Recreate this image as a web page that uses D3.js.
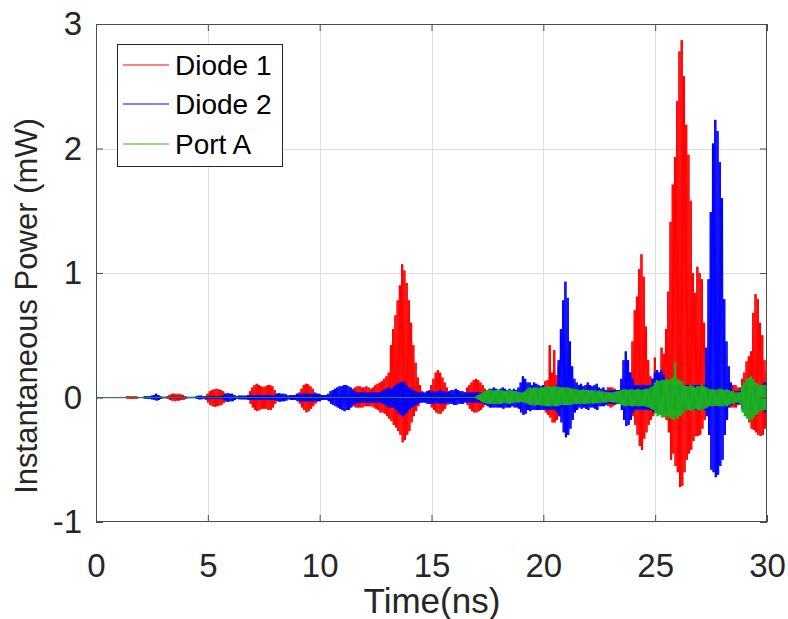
<!DOCTYPE html>
<html>
<head>
<meta charset="utf-8">
<script src="https://cdn.jsdelivr.net/npm/d3@7"></script>
<style>
html,body{margin:0;padding:0;background:#fff;}
svg{display:block;font-family:"Liberation Sans",Arial,Helvetica,sans-serif;}
</style>
</head>
<body>
<svg id="chart" width="788" height="619"></svg>
<script>
// ---- Data (envelopes of the signals, one value per 0.1 ns, t = 0 ... 30 ns) ----
const xTicks = [0, 5, 10, 15, 20, 25, 30];
const yTicks = [-1, 0, 1, 2, 3];
const seriesNames = ["Diode 1", "Diode 2", "Port A"];
const seriesColors = ["#ff0000", "#0000ff", "#1db31d"];

// Diode 1 – upper / lower envelope (mW)
const diode1Upper = [
0,0,0,0,0,0,0,0,0,0,
0,0,0,0,0.01,0.01,0.01,0.01,0.01,0.005,
0,0,0,0,0,0,0,0,0,0.005,
0.005,0.005,0.01,0.02,0.03,0.03,0.025,0.03,0.025,0.02,
0.01,0.005,0,0,0,0,0,0,0,0.01,
0.03,0.05,0.06,0.065,0.07,0.065,0.06,0.05,0.03,0.015,
0.005,0.005,0.005,0.005,0.005,0.005,0.005,0.01,0.02,0.05,
0.08,0.1,0.11,0.1,0.09,0.085,0.09,0.1,0.1,0.09,
0.06,0.03,0.01,0.01,0.01,0.01,0.01,0.01,0.01,0.01,
0.02,0.04,0.07,0.1,0.11,0.105,0.09,0.07,0.04,0.03,
0.02,0.02,0.015,0.01,0.01,0.02,0.02,0.02,0.02,0.02,
0.02,0.02,0.02,0.02,0.04,0.07,0.08,0.09,0.09,0.08,
0.08,0.09,0.08,0.07,0.08,0.1,0.11,0.12,0.13,0.15,
0.17,0.2,0.42,0.55,0.66,0.78,0.9,1.07,1.02,0.92,
0.78,0.6,0.42,0.28,0.16,0.1,0.05,0.03,0.03,0.06,
0.1,0.15,0.2,0.22,0.2,0.16,0.12,0.08,0.04,0.02,
0.02,0.02,0.02,0.02,0.02,0.04,0.08,0.1,0.12,0.14,
0.15,0.14,0.12,0.1,0.07,0.04,0.02,0.02,0.02,0.02,
0.02,0.02,0.02,0.02,0.02,0.02,0.02,0.02,0.02,0.02,
0.02,0.02,0.02,0.02,0.02,0.02,0.02,0.02,0.02,0.02,
0.1,0.13,0.14,0.42,0.2,0.38,0.18,0.25,0.1,0.05,
0.05,0.05,0.05,0.05,0.05,0.05,0.03,0.03,0.03,0.03,
0.03,0.03,0.03,0.03,0.03,0.03,0.03,0.03,0.03,0.08,
0.08,0.08,0.07,0.05,0.05,0.05,0.05,0.05,0.08,0.2,
0.45,0.7,0.81,1.03,1.15,0.97,0.57,0.3,0.17,0.15,
0.32,0.15,0.2,0.4,0.35,0.55,0.85,1.41,1.71,1.93,
2.38,2.78,2.87,2.58,2.19,1.95,1.58,1.0,0.84,1.05,
1.0,0.95,0.6,0.28,0.25,0.15,0.05,0.05,0.05,0.05,
0.05,0.05,0.05,0.05,0.1,0.1,0.1,0.08,0.08,0.15,
0.2,0.29,0.33,0.37,0.68,0.83,0.79,0.6,0.5,0.3,
0.2];
const diode1Lower = [
0,0,0,0,0,0,0,0,0,0,
0,0,0,0,-0.01,-0.01,-0.01,-0.01,-0.01,-0.005,
0,0,0,0,0,0,0,0,0,-0.005,
-0.005,-0.005,-0.01,-0.02,-0.025,-0.03,-0.025,-0.025,-0.02,-0.02,
-0.01,-0.005,0,0,0,0,0,0,0,-0.02,
-0.04,-0.06,-0.07,-0.075,-0.07,-0.065,-0.06,-0.045,-0.03,-0.01,
-0.005,-0.005,-0.005,-0.005,-0.005,-0.005,-0.005,-0.01,-0.02,-0.05,
-0.08,-0.1,-0.11,-0.1,-0.09,-0.09,-0.09,-0.1,-0.1,-0.08,
-0.05,-0.02,-0.01,-0.01,-0.01,-0.01,-0.01,-0.01,-0.01,-0.01,
-0.02,-0.05,-0.08,-0.1,-0.12,-0.11,-0.09,-0.07,-0.05,-0.03,
-0.02,-0.02,-0.015,-0.01,-0.01,-0.02,-0.02,-0.02,-0.02,-0.02,
-0.02,-0.02,-0.02,-0.02,-0.05,-0.07,-0.08,-0.08,-0.08,-0.08,
-0.07,-0.07,-0.07,-0.07,-0.08,-0.09,-0.1,-0.12,-0.12,-0.13,
-0.15,-0.17,-0.19,-0.22,-0.24,-0.27,-0.3,-0.36,-0.34,-0.3,
-0.27,-0.2,-0.15,-0.11,-0.07,-0.04,-0.02,-0.02,-0.02,-0.05,
-0.08,-0.1,-0.12,-0.13,-0.13,-0.11,-0.09,-0.06,-0.03,-0.02,
-0.02,-0.02,-0.02,-0.02,-0.02,-0.03,-0.06,-0.09,-0.11,-0.12,
-0.12,-0.11,-0.1,-0.08,-0.05,-0.03,-0.02,-0.02,-0.02,-0.02,
-0.02,-0.02,-0.02,-0.02,-0.02,-0.02,-0.02,-0.02,-0.02,-0.02,
-0.02,-0.02,-0.02,-0.02,-0.02,-0.02,-0.02,-0.02,-0.02,-0.02,
-0.08,-0.12,-0.14,-0.16,-0.2,-0.2,-0.18,-0.15,-0.08,-0.05,
-0.05,-0.05,-0.05,-0.05,-0.05,-0.05,-0.03,-0.03,-0.03,-0.03,
-0.03,-0.03,-0.03,-0.03,-0.03,-0.03,-0.03,-0.03,-0.03,-0.07,
-0.08,-0.07,-0.06,-0.05,-0.05,-0.05,-0.05,-0.06,-0.08,-0.1,
-0.15,-0.22,-0.3,-0.39,-0.42,-0.33,-0.28,-0.22,-0.18,-0.15,
-0.12,-0.12,-0.13,-0.14,-0.15,-0.18,-0.28,-0.5,-0.45,-0.55,
-0.6,-0.72,-0.71,-0.6,-0.5,-0.45,-0.42,-0.35,-0.31,-0.31,
-0.3,-0.25,-0.18,-0.12,-0.08,-0.05,-0.05,-0.05,-0.05,-0.05,
-0.05,-0.05,-0.05,-0.05,-0.08,-0.08,-0.08,-0.06,-0.06,-0.08,
-0.1,-0.15,-0.2,-0.25,-0.26,-0.28,-0.3,-0.31,-0.3,-0.25,
-0.2];

// Diode 2 – upper / lower envelope (mW)
const diode2Upper = [
0,0,0,0,0,0,0,0,0,0,
0,0,0,0,0,0,0,0,0,0,
0,0.005,0.01,0.01,0.01,0.015,0.02,0.03,0.02,0.01,
0.005,0.005,0.005,0.005,0.005,0.005,0.005,0.005,0.005,0.005,
0.005,0.005,0.005,0.005,0.005,0.01,0.015,0.015,0.01,0.01,
0.01,0.01,0.01,0.01,0.01,0.01,0.01,0.02,0.03,0.035,
0.03,0.03,0.02,0.01,0.015,0.015,0.015,0.015,0.015,0.02,
0.02,0.02,0.02,0.02,0.02,0.02,0.02,0.02,0.02,0.02,
0.02,0.03,0.035,0.03,0.03,0.025,0.015,0.02,0.02,0.02,
0.03,0.03,0.03,0.03,0.03,0.03,0.03,0.03,0.03,0.03,
0.03,0.02,0.02,0.02,0.03,0.05,0.06,0.07,0.08,0.09,
0.09,0.1,0.1,0.09,0.08,0.06,0.05,0.04,0.04,0.04,
0.04,0.04,0.04,0.04,0.04,0.04,0.04,0.04,0.05,0.06,
0.07,0.08,0.07,0.08,0.1,0.11,0.12,0.13,0.12,0.1,
0.08,0.07,0.06,0.05,0.04,0.04,0.04,0.04,0.05,0.05,
0.05,0.05,0.04,0.05,0.06,0.05,0.05,0.04,0.05,0.06,
0.06,0.07,0.06,0.05,0.05,0.04,0.04,0.04,0.04,0.04,
0.04,0.04,0.04,0.04,0.04,0.06,0.07,0.07,0.08,0.07,
0.06,0.07,0.08,0.07,0.06,0.07,0.06,0.07,0.06,0.08,
0.12,0.17,0.15,0.12,0.12,0.1,0.12,0.11,0.1,0.09,
0.1,0.08,0.08,0.08,0.08,0.08,0.1,0.3,0.55,0.78,
0.93,0.8,0.45,0.25,0.15,0.12,0.1,0.11,0.09,0.1,
0.12,0.1,0.09,0.1,0.11,0.08,0.07,0.08,0.06,0.05,
0.06,0.06,0.06,0.06,0.06,0.15,0.3,0.37,0.3,0.2,
0.15,0.1,0.1,0.1,0.1,0.1,0.1,0.1,0.1,0.15,
0.2,0.22,0.2,0.22,0.18,0.15,0.1,0.1,0.1,0.1,
0.1,0.1,0.1,0.1,0.1,0.1,0.1,0.1,0.1,0.1,
0.1,0.1,0.1,0.4,0.95,1.49,2.04,2.23,2.14,1.89,
1.6,0.79,0.45,0.25,0.12,0.05,0.05,0.05,0.05,0.1,
0.1,0.1,0.1,0.1,0.1,0.1,0.1,0.1,0.1,0.12,
0.12];
const diode2Lower = [
0,0,0,0,0,0,0,0,0,0,
0,0,0,0,0,0,0,0,0,0,
0,-0.005,-0.01,-0.01,-0.01,-0.015,-0.02,-0.025,-0.02,-0.01,
-0.005,-0.005,-0.005,-0.005,-0.005,-0.005,-0.005,-0.005,-0.005,-0.005,
-0.005,-0.005,-0.005,-0.005,-0.005,-0.01,-0.015,-0.015,-0.01,-0.01,
-0.01,-0.01,-0.01,-0.01,-0.01,-0.01,-0.01,-0.02,-0.03,-0.035,
-0.03,-0.03,-0.02,-0.01,-0.015,-0.015,-0.015,-0.015,-0.015,-0.02,
-0.02,-0.02,-0.02,-0.02,-0.02,-0.02,-0.02,-0.02,-0.02,-0.02,
-0.02,-0.03,-0.035,-0.03,-0.03,-0.025,-0.015,-0.02,-0.02,-0.02,
-0.03,-0.03,-0.03,-0.03,-0.03,-0.03,-0.03,-0.03,-0.03,-0.03,
-0.03,-0.02,-0.02,-0.02,-0.03,-0.05,-0.06,-0.07,-0.08,-0.09,
-0.1,-0.11,-0.1,-0.1,-0.08,-0.06,-0.05,-0.04,-0.04,-0.04,
-0.04,-0.04,-0.04,-0.04,-0.04,-0.04,-0.04,-0.04,-0.05,-0.06,
-0.07,-0.08,-0.08,-0.08,-0.1,-0.12,-0.14,-0.15,-0.14,-0.12,
-0.1,-0.08,-0.07,-0.06,-0.05,-0.04,-0.04,-0.04,-0.05,-0.05,
-0.05,-0.05,-0.04,-0.05,-0.05,-0.05,-0.05,-0.04,-0.05,-0.05,
-0.06,-0.06,-0.05,-0.05,-0.05,-0.04,-0.04,-0.04,-0.04,-0.04,
-0.04,-0.04,-0.04,-0.05,-0.06,-0.07,-0.08,-0.08,-0.08,-0.08,
-0.08,-0.08,-0.09,-0.08,-0.08,-0.08,-0.07,-0.08,-0.08,-0.09,
-0.12,-0.14,-0.13,-0.1,-0.11,-0.1,-0.1,-0.1,-0.1,-0.1,
-0.1,-0.1,-0.1,-0.1,-0.1,-0.1,-0.12,-0.15,-0.2,-0.28,
-0.32,-0.3,-0.25,-0.18,-0.12,-0.1,-0.08,-0.09,-0.08,-0.09,
-0.1,-0.08,-0.08,-0.09,-0.1,-0.07,-0.07,-0.07,-0.06,-0.05,
-0.05,-0.05,-0.05,-0.05,-0.05,-0.1,-0.18,-0.23,-0.22,-0.18,
-0.12,-0.1,-0.1,-0.1,-0.1,-0.1,-0.1,-0.1,-0.1,-0.12,
-0.12,-0.12,-0.12,-0.12,-0.12,-0.12,-0.1,-0.1,-0.1,-0.1,
-0.1,-0.1,-0.1,-0.1,-0.1,-0.1,-0.1,-0.1,-0.1,-0.1,
-0.1,-0.1,-0.1,-0.15,-0.3,-0.58,-0.6,-0.64,-0.62,-0.55,
-0.5,-0.3,-0.18,-0.08,-0.06,-0.05,-0.05,-0.05,-0.05,-0.1,
-0.1,-0.1,-0.1,-0.1,-0.1,-0.1,-0.1,-0.1,-0.1,-0.12,
-0.12];

// Port A – upper / lower envelope (mW)
const portAUpper = [
0,0,0,0,0,0,0,0,0,0, 0,0,0,0,0,0,0,0,0,0, 0,0,0,0,0,0,0,0,0,0,
0,0,0,0,0,0,0,0,0,0, 0,0,0,0,0,0,0,0,0,0, 0,0,0,0,0,0,0,0,0,0,
0,0,0,0,0,0,0,0,0,0, 0,0,0,0,0,0,0,0,0,0, 0,0,0,0,0,0,0,0,0,0,
0,0,0,0,0,0,0,0,0,0, 0,0,0,0,0,0,0,0,0,0, 0,0,0,0,0,0,0,0,0,0,
0,0,0,0,0,0,0,0,0,0, 0,0,0,0,0,0,0,0,0,0, 0,0,0,0,0,0,0,0,0,0,
0,0,0,0,0,0,0,0,0,0, 0,0,0,0,0,0,0,0,0,0,
0.01,0.02,0.03,0.04,0.05,0.06,0.065,0.06,0.055,0.06,
0.065,0.06,0.055,0.05,0.055,0.06,0.055,0.05,0.05,0.045,
0.04,0.04,0.05,0.07,0.08,0.075,0.08,0.08,0.075,0.08,
0.08,0.085,0.09,0.09,0.085,0.09,0.09,0.085,0.08,0.08,
0.08,0.08,0.075,0.07,0.07,0.065,0.06,0.06,0.065,0.06,
0.06,0.055,0.06,0.055,0.05,0.055,0.05,0.045,0.045,0.04,
0.04,0.04,0.045,0.05,0.05,0.06,0.065,0.065,0.06,0.065,
0.065,0.06,0.065,0.065,0.06,0.065,0.07,0.07,0.08,0.09,
0.12,0.14,0.13,0.14,0.14,0.15,0.14,0.15,0.16,0.28,
0.15,0.14,0.13,0.1,0.09,0.09,0.1,0.09,0.08,0.09,
0.09,0.1,0.09,0.08,0.07,0.065,0.065,0.06,0.065,0.07,
0.065,0.06,0.065,0.06,0.05,0.05,0.04,0.04,0.04,0.1,
0.12,0.15,0.16,0.17,0.15,0.12,0.11,0.1,0.1,0.1,
0.1];
const portALower = [
0,0,0,0,0,0,0,0,0,0, 0,0,0,0,0,0,0,0,0,0, 0,0,0,0,0,0,0,0,0,0,
0,0,0,0,0,0,0,0,0,0, 0,0,0,0,0,0,0,0,0,0, 0,0,0,0,0,0,0,0,0,0,
0,0,0,0,0,0,0,0,0,0, 0,0,0,0,0,0,0,0,0,0, 0,0,0,0,0,0,0,0,0,0,
0,0,0,0,0,0,0,0,0,0, 0,0,0,0,0,0,0,0,0,0, 0,0,0,0,0,0,0,0,0,0,
0,0,0,0,0,0,0,0,0,0, 0,0,0,0,0,0,0,0,0,0, 0,0,0,0,0,0,0,0,0,0,
0,0,0,0,0,0,0,0,0,0, 0,0,0,0,0,0,0,0,0,0,
-0.01,-0.02,-0.03,-0.04,-0.045,-0.05,-0.05,-0.05,-0.05,-0.05,
-0.05,-0.05,-0.045,-0.045,-0.05,-0.05,-0.045,-0.04,-0.04,-0.04,
-0.035,-0.04,-0.045,-0.05,-0.06,-0.06,-0.065,-0.06,-0.06,-0.065,
-0.065,-0.07,-0.07,-0.07,-0.065,-0.07,-0.07,-0.065,-0.06,-0.06,
-0.06,-0.06,-0.06,-0.055,-0.05,-0.05,-0.05,-0.05,-0.05,-0.05,
-0.05,-0.045,-0.05,-0.045,-0.045,-0.045,-0.04,-0.04,-0.04,-0.035,
-0.035,-0.04,-0.04,-0.045,-0.05,-0.06,-0.07,-0.07,-0.065,-0.07,
-0.07,-0.065,-0.07,-0.07,-0.065,-0.07,-0.075,-0.08,-0.09,-0.1,
-0.13,-0.15,-0.14,-0.16,-0.16,-0.15,-0.16,-0.17,-0.18,-0.16,
-0.17,-0.15,-0.13,-0.11,-0.1,-0.1,-0.11,-0.1,-0.09,-0.1,
-0.1,-0.1,-0.09,-0.08,-0.07,-0.07,-0.07,-0.065,-0.07,-0.07,
-0.07,-0.065,-0.07,-0.06,-0.05,-0.05,-0.04,-0.04,-0.05,-0.12,
-0.15,-0.17,-0.18,-0.18,-0.16,-0.14,-0.12,-0.11,-0.1,-0.1,
-0.1];

// sample grid: 0.1 ns steps
const sampleStepNs = 0.1;
const timeNs = diode1Upper.map((_, i) => +(i * sampleStepNs).toFixed(1));

(function draw() {
  const W = 788, H = 619;
  const pL = 96, pR = 767, pT = 24, pB = 522;
  const svg = d3.select("#chart");
  svg.append("rect").attr("width", W).attr("height", H).attr("fill", "#fff");

  const x = d3.scaleLinear().domain([0, 30]).range([pL, pR]);
  const y = d3.scaleLinear().domain([-1, 3]).range([pB, pT]);

  // grid
  const grid = svg.append("g");
  grid.selectAll(".gx").data(xTicks.slice(1, -1)).enter().append("line")
    .attr("x1", d => Math.round(x(d)) + 0.5).attr("x2", d => Math.round(x(d)) + 0.5)
    .attr("y1", pT).attr("y2", pB).attr("stroke", "#dedede").attr("stroke-width", 1);
  grid.selectAll(".gy").data(yTicks.slice(1, -1)).enter().append("line")
    .attr("y1", d => Math.round(y(d)) + 0.5).attr("y2", d => Math.round(y(d)) + 0.5)
    .attr("x1", pL).attr("x2", pR).attr("stroke", "#dedede").attr("stroke-width", 1);

  // clip
  svg.append("clipPath").attr("id", "clip").append("rect")
    .attr("x", pL).attr("y", pT).attr("width", pR - pL).attr("height", pB - pT);

  // series: each 0.1 ns envelope sample is drawn as two oscillation cycles
  const seriesData = [
    [diode1Upper, diode1Lower],
    [diode2Upper, diode2Lower],
    [portAUpper, portALower]
  ];
  const q = sampleStepNs / 8;
  const line = d3.line().x(d => x(d[0])).y(d => y(d[1]));
  const plot = svg.append("g").attr("clip-path", "url(#clip)");
  seriesData.forEach((s, k) => {
    const pts = [];
    timeNs.forEach((t, i) => {
      const u = s[0][i], l = s[1][i];
      pts.push([t - 3 * q, u]);
      pts.push([t - q, l]);
      pts.push([t + q, u]);
      pts.push([t + 3 * q, l]);
    });
    plot.append("path").attr("d", line(pts))
      .attr("fill", "none").attr("stroke", seriesColors[k])
      .attr("stroke-width", 1).attr("stroke-linejoin", "miter");
  });

  // frame
  const axisColor = "#262626";
  svg.append("rect").attr("x", pL + 0.5).attr("y", pT + 0.5)
    .attr("width", pR - pL - 1).attr("height", pB - pT - 1)
    .attr("fill", "none").attr("stroke", "#4d4d4d").attr("stroke-width", 1);

  const fmt = d => String(d);
  // axes with inward ticks
  const xAxisB = d3.axisBottom(x).tickValues(xTicks).tickSizeInner(-7).tickSizeOuter(0).tickPadding(55).tickFormat(fmt);
  const gxb = svg.append("g").attr("transform", `translate(0,${pB})`).call(xAxisB);
  gxb.select(".domain").remove();
  gxb.selectAll(".tick line").attr("stroke", "#4d4d4d");
  gxb.selectAll(".tick text").attr("font-size", 33).attr("fill", axisColor)
    .attr("font-family", "Liberation Sans, Arial, sans-serif").attr("dy", "0");

  const xAxisT = d3.axisTop(x).tickValues(xTicks).tickSizeInner(-7).tickSizeOuter(0).tickFormat("");
  const gxt = svg.append("g").attr("transform", `translate(0,${pT})`).call(xAxisT);
  gxt.select(".domain").remove();
  gxt.selectAll(".tick line").attr("stroke", "#4d4d4d");

  const yAxisL = d3.axisLeft(y).tickValues(yTicks).tickSizeInner(-7).tickSizeOuter(0).tickPadding(14).tickFormat(fmt);
  const gyl = svg.append("g").attr("transform", `translate(${pL},0)`).call(yAxisL);
  gyl.select(".domain").remove();
  gyl.selectAll(".tick line").attr("stroke", "#4d4d4d");
  gyl.selectAll(".tick text").attr("font-size", 33).attr("fill", axisColor)
    .attr("font-family", "Liberation Sans, Arial, sans-serif");

  const yAxisR = d3.axisRight(y).tickValues(yTicks).tickSizeInner(-7).tickSizeOuter(0).tickFormat("");
  const gyr = svg.append("g").attr("transform", `translate(${pR},0)`).call(yAxisR);
  gyr.select(".domain").remove();
  gyr.selectAll(".tick line").attr("stroke", "#4d4d4d");

  // axis titles
  svg.append("text").attr("x", 432).attr("y", 613)
    .attr("text-anchor", "middle").attr("font-size", 35).attr("fill", axisColor)
    .text("Time(ns)");
  svg.append("text").attr("transform", `translate(37,306) rotate(-90)`)
    .attr("text-anchor", "middle").attr("font-size", 31).attr("fill", axisColor)
    .text("Instantaneous Power (mW)");

  // legend
  const lg = svg.append("g");
  lg.append("rect").attr("x", 117.5).attr("y", 44.5).attr("width", 165).attr("height", 122)
    .attr("fill", "#fff").attr("stroke", "#262626").attr("stroke-width", 1);
  const legendY = [65, 104, 144];
  seriesNames.forEach((n, i) => {
    lg.append("line").attr("x1", 123).attr("x2", 169).attr("y1", legendY[i]).attr("y2", legendY[i])
      .attr("stroke", seriesColors[i]).attr("stroke-width", 1);
    lg.append("text").attr("x", 175).attr("y", legendY[i]).attr("dy", "0.36em")
      .attr("font-size", 28).attr("fill", "#000").text(n);
  });
})();
</script>
</body>
</html>
